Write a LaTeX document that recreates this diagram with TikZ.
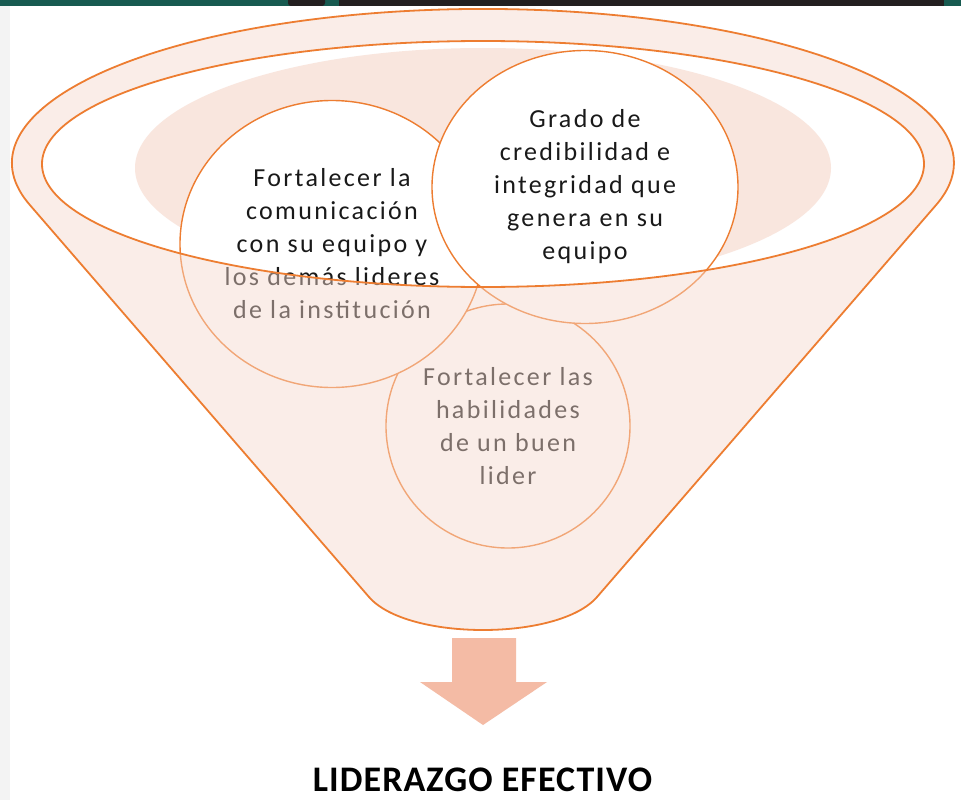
\documentclass[tikz,border=0pt]{standalone}
\usepackage{fontspec}
\setmainfont{Carlito}
\newfontfamily\circfont[LetterSpace=9]{Carlito}
\newfontfamily\titlefont[LetterSpace=3]{Carlito}
\usetikzlibrary{shapes.geometric}
\definecolor{orng}{RGB}{237,125,49}
\definecolor{veil}{RGB}{246,217,206}
\definecolor{liquid}{RGB}{249,230,222}
\definecolor{arrowc}{RGB}{244,187,165}
\definecolor{barg}{RGB}{23,90,80}
\definecolor{barb}{RGB}{35,31,32}
\definecolor{txt}{RGB}{25,25,25}
\definecolor{strip}{RGB}{243,243,243}
\begin{document}
\begin{tikzpicture}[x=1pt,y=-1pt,
  bubble/.style={draw=orng, line width=1.4pt, fill=white, align=center, text=txt,
    inner sep=0pt, font=\circfont\fontsize{26}{33}\selectfont},
  rimline/.style={draw=orng, line width=1.8pt},
  veilfill/.style={fill=veil, fill opacity=0.45, even odd rule}]
\useasboundingbox (0,0) rectangle (961,800);
\fill[white] (0,0) rectangle (961,800);
% frame remnants
\fill[strip] (0,6) rectangle (10,800);
\fill[barg] (0,0) rectangle (961,6);
\fill[barb] (339,0) rectangle (944,6);
\fill[barb, rounded corners=3pt] (288,-4) rectangle (325,6);
% liquid inside the opening
\fill[liquid] (483,168) ellipse[x radius=348pt, y radius=120pt];
% circles
\node[bubble, circle, minimum size=244pt] (c3) at (508,426)
  {Fortalecer las\\habilidades\\de un buen\\lider};
\node[bubble, ellipse, minimum width=304pt, minimum height=287pt] (c1) at (332,244)
  {Fortalecer la\\comunicación\\con su equipo y\\los demás lideres\\de la institución};
\node[bubble, ellipse, minimum width=306pt, minimum height=273pt] (c2) at (585,187)
  {Grado de\\credibilidad e\\integridad que\\genera en su\\equipo};
% funnel veil
\path[veilfill] (29.8,204.9) arc[start angle=195.8, end angle=-15.8, x radius=471pt, y radius=154pt]
  -- (597,597) .. controls (559,641) and (407,641) .. (369,597) -- cycle
  (483,164) ellipse[x radius=441pt, y radius=123pt];
\draw[rimline] (29.8,204.9) arc[start angle=195.8, end angle=-15.8, x radius=471pt, y radius=154pt]
  -- (597,597) .. controls (559,641) and (407,641) .. (369,597) -- cycle;
\draw[rimline] (483,164) ellipse[x radius=441pt, y radius=123pt];
% arrow
\fill[arrowc] (452,638) -- (516,638) -- (516,682) -- (547,682) -- (483,725) -- (420,682) -- (452,682) -- cycle;
% result
\node[anchor=base, font=\titlefont\bfseries\fontsize{36}{40}\selectfont, text=black, inner sep=0pt]
  (res) at (482.5,791) {LIDERAZGO EFECTIVO};
\end{tikzpicture}
\end{document}
